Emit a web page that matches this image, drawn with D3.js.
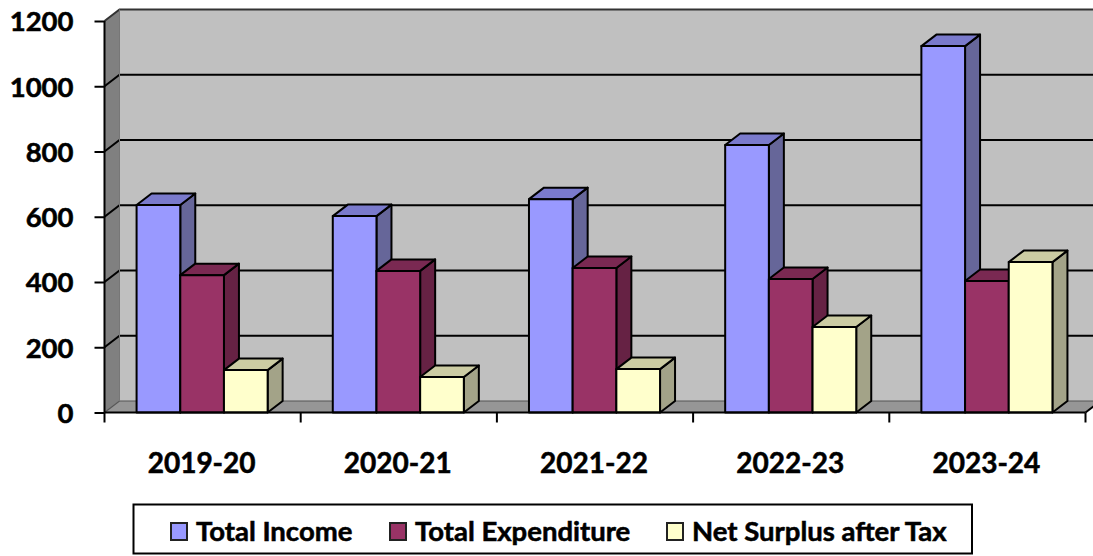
<!DOCTYPE html>
<html><head><meta charset="utf-8">
<script src="https://cdn.jsdelivr.net/npm/d3@7"></script>
<style>html,body{margin:0;padding:0;background:#fff;overflow:hidden}svg{display:block}text{font-family:Lato,sans-serif;font-weight:700;fill:#000;stroke:#000;stroke-width:0.55px}</style>
</head><body><svg id="c" width="1093" height="556"></svg>
<script>
const categories=["2019-20","2020-21","2021-22","2022-23","2023-24"];
const seriesNames=["Total Income","Total Expenditure","Net Surplus after Tax"];
const totalIncome=[636,602,654,820,1123];
const totalExpenditure=[421,434,443,409,403];
const netSurplus=[130,109,133,262,461];
const yTicks=[0,200,400,600,800,1000,1200];
const fills=["#9999FF","#993366","#FFFFCC"];
const tops=["#7A7ACC","#7A2952","#CCCCA3"];
const sides=["#666699","#662244","#A3A388"];
const seriesValues=[totalIncome,totalExpenditure,netSurplus];

const svg=d3.select("#c");
const x0=104.5,x1=1085.5,y0=412.5,y1=21,dx=15,dy=-11.5;
const x=d3.scaleBand().domain(categories).range([x0,x1]).paddingInner(0).paddingOuter(0);
const y=d3.scaleLinear().domain([0,1200]).range([y0,y1]);
const inner=d3.scaleBand().domain(d3.range(3)).range([x.bandwidth()*0.1635,x.bandwidth()*0.8315]);
const pts=a=>a.map(p=>p.join(",")).join(" ");
function poly(g,p,fill,sw=2,st="#000"){return g.append("polygon").attr("points",pts(p)).attr("fill",fill).attr("stroke",st).attr("stroke-width",sw).attr("stroke-linejoin","round");}

const walls=svg.append("g");
poly(walls,[[x0+dx,y1+dy],[1093+2,y1+dy],[1093+2,y0+dy],[x0+dx,y0+dy]],"#C0C0C0",0,"none");
poly(walls,[[x0,y1],[x0+dx,y1+dy],[x0+dx,y0+dy],[x0,y0]],"#808080",0,"none");
poly(walls,[[x0,y0],[x0+dx,y0+dy],[x1+dx,y0+dy],[x1,y0]],"#969696",0,"none");

const grid=svg.append("g").attr("fill","none").attr("stroke","#000").attr("stroke-width",2);
yTicks.forEach(t=>{
  if(t>0){
    grid.append("path").attr("d",`M${x0},${y(t)}L${x0+dx},${y(t)+dy}L1093,${y(t)+dy}`)
      .attr("stroke",t===1200?"#333":"#000");
  } else {
    grid.append("path").attr("d",`M${x0},${y(0)}L${x0+dx},${y(0)+dy}L1093,${y(0)+dy}`).attr("stroke","#555").attr("stroke-width",1.2);
  }
});
grid.append("path").attr("d",`M${x0+dx},${y1+dy}V${y0+dy}`).attr("stroke","#777").attr("stroke-width",1);

const bars=svg.append("g");
categories.forEach((c,i)=>{
  seriesValues.forEach((vals,s)=>{
    const g=bars.append("g");
    const l=x(c)+inner(s),r=l+inner.bandwidth(),t=y(vals[i]),b=y(0);
    poly(g,[[r,t],[r+dx,t+dy],[r+dx,b+dy],[r,b]],sides[s]);
    poly(g,[[l,t],[l+dx,t+dy],[r+dx,t+dy],[r,t]],tops[s]);
    poly(g,[[l,t],[r,t],[r,b],[l,b]],fills[s]);
  });
});

const axisY=svg.append("g").attr("transform",`translate(${x0},0)`)
  .call(d3.axisLeft(y).tickValues(yTicks).tickSize(10).tickPadding(21).tickFormat(d3.format("d")));
axisY.selectAll("text").style("font-size","27.5px").attr("dy","0.36em");
axisY.selectAll("line").attr("stroke","#000").attr("stroke-width",2);
axisY.select(".domain").attr("stroke","#000").attr("stroke-width",2).attr("d",`M0,${y1}V${y0}`);

const axisX=svg.append("g").attr("transform",`translate(0,${y0})`)
  .call(d3.axisBottom(x).tickSize(0).tickPadding(41));
axisX.selectAll("text").style("font-size","28px").attr("dy","0.71em").attr("dx","-1");
axisX.select(".domain").attr("stroke","#000").attr("stroke-width",2).attr("d",`M${x0},0H${x1}`);
axisX.selectAll(".tk").data(d3.range(categories.length+1)).enter().append("line").attr("class","tk")
  .attr("x1",i=>x0+i*x.bandwidth()).attr("x2",i=>x0+i*x.bandwidth()).attr("y1",0).attr("y2",10)
  .attr("stroke","#000").attr("stroke-width",2);
svg.append("path").attr("d",`M${x1},${y0}L${x1+dx},${y0+dy}`).attr("stroke","#000").attr("stroke-width",2).attr("fill","none");

const leg=svg.append("g");
leg.append("rect").attr("x",133.5).attr("y",504.5).attr("width",838.5).attr("height",49).attr("fill","#fff").attr("stroke","#000").attr("stroke-width",2);
const legendX=[171,390,667];
seriesNames.forEach((n,i)=>{
  leg.append("rect").attr("x",legendX[i]).attr("y",523).attr("width",16).attr("height",17).attr("fill",fills[i]).attr("stroke","#222").attr("stroke-width",2);
  leg.append("text").attr("x",legendX[i]+25).attr("y",541).style("font-size","27.5px").text(n);
});
</script></body></html>
